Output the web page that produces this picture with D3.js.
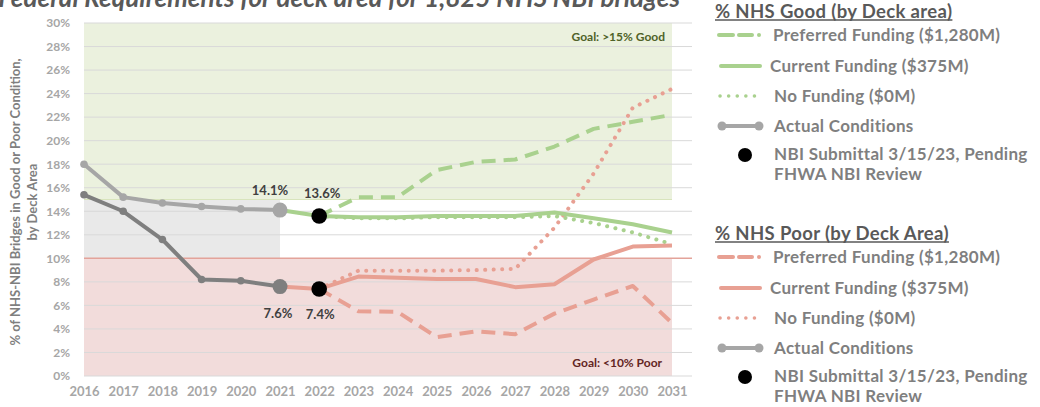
<!DOCTYPE html>
<html><head><meta charset="utf-8">
<script src="https://cdn.jsdelivr.net/npm/d3@7/dist/d3.min.js"></script>
<style>
html,body{margin:0;padding:0;background:#fff;}
svg{display:block;font-family:Lato,"Open Sans",sans-serif;}
</style></head>
<body><svg id="c" width="1040" height="407"></svg>
<script>
const years = [2016,2017,2018,2019,2020,2021,2022,2023,2024,2025,2026,2027,2028,2029,2030,2031];
const yTicks = [0,2,4,6,8,10,12,14,16,18,20,22,24,26,28,30];
const actualYears = [2016,2017,2018,2019,2020,2021];
const actualGood = [18.0,15.2,14.7,14.4,14.2,14.1];
const actualPoor = [15.4,14.0,11.6,8.2,8.1,7.6];
const nbiYear = 2022;
const nbiGood = 13.6, nbiPoor = 7.4;
const projYears = [2021,2022,2023,2024,2025,2026,2027,2028,2029,2030,2031];
const goodPreferred = [null,13.6,15.2,15.2,17.5,18.2,18.4,19.5,21.0,21.6,22.2];
const goodCurrent   = [14.1,13.6,13.5,13.5,13.6,13.6,13.6,13.9,13.4,12.9,12.2];
const goodNone      = [null,13.6,13.4,13.4,13.5,13.5,13.5,13.6,13.0,12.2,11.2];
const poorPreferred = [null,7.4,5.5,5.45,3.3,3.8,3.55,5.3,6.5,7.65,4.5];
const poorCurrent   = [7.6,7.4,8.45,8.35,8.25,8.25,7.55,7.8,9.9,11.0,11.1];
const poorNone      = [null,7.4,8.95,8.95,8.95,9.0,9.1,12.6,17.2,22.8,24.4];
const title = "Federal Requirements for deck area for 1,825 NHS NBI bridges";
const legendGood = ["% NHS Good (by Deck area)","Preferred Funding ($1,280M)","Current Funding ($375M)","No Funding ($0M)","Actual Conditions","NBI Submittal 3/15/23, Pending","FHWA NBI Review"];
const legendPoor = ["% NHS Poor (by Deck Area)","Preferred Funding ($1,280M)","Current Funding ($375M)","No Funding ($0M)","Actual Conditions","NBI Submittal 3/15/23, Pending","FHWA NBI Review"];

const GREEN="#a9d18e", SALMON="#e8a093", LGRAY="#a6a6a6", DGRAY="#7f7f7f";
const svg = d3.select("#c");
const x = d3.scalePoint().domain(years).range([84,672]);
const y = d3.scaleLinear().domain([0,30]).range([376,23]);
const xR = 692;

// background bands
svg.append("rect").attr("x",x(2016)).attr("width",x(2031)-x(2016)).attr("y",y(30)).attr("height",y(15)-y(30)).attr("fill","#ebf1de");
svg.append("rect").attr("x",x(2016)).attr("width",x(2031)-x(2016)).attr("y",y(10)).attr("height",y(0)-y(10)).attr("fill","#f2dcdb");
svg.append("rect").attr("x",x(2016)).attr("width",x(2021)-x(2016)).attr("y",y(15)).attr("height",y(10)-y(15)).attr("fill","#e9e9e9");

// gridlines
svg.append("g").selectAll("line").data(yTicks).join("line")
  .attr("x1",x(2016)).attr("x2",xR).attr("y1",d=>y(d)).attr("y2",d=>y(d))
  .attr("stroke",d=>d===10?"#e3a39a":"#d9d9d9").attr("stroke-width",d=>d===10?1.5:1);
svg.append("line").attr("x1",x(2016)).attr("x2",x(2031)).attr("y1",y(15)).attr("y2",y(15)).attr("stroke","#d8e4bc").attr("stroke-width",1);

// axes
const yAxis = d3.axisLeft(y).tickValues(yTicks).tickFormat(d=>d+"%").tickSize(0).tickPadding(0);
const ga = svg.append("g").attr("transform","translate(70,0)").call(yAxis);
ga.select(".domain").remove();
ga.selectAll("text").attr("fill","#a6a6a6").attr("font-size",12).attr("font-weight","bold").attr("font-family","Lato");
const xAxis = d3.axisBottom(x).tickSize(0).tickPadding(0).tickFormat(d=>d);
const gx = svg.append("g").attr("transform","translate(0,387)").call(xAxis);
gx.select(".domain").remove();
gx.selectAll("text").attr("fill","#a6a6a6").attr("font-size",13).attr("font-weight","bold").attr("font-family","Lato");

// y title
const yt = svg.append("text").attr("transform","translate(0,202) rotate(-90)")
  .attr("text-anchor","middle").attr("fill","#7f7f7f").attr("font-size",13).attr("font-weight","bold");
yt.append("tspan").attr("x",0).attr("y",20).text("% of NHS-NBI Bridges in Good or Poor Condition,");
yt.append("tspan").attr("x",0).attr("y",37).text("by Deck Area");

// goal labels
svg.append("text").attr("x",665).attr("y",41).attr("text-anchor","end").attr("font-size",12).attr("font-weight","bold").attr("fill","#4f6228").text("Goal: >15% Good");
svg.append("text").attr("x",662).attr("y",367).attr("text-anchor","end").attr("font-size",12).attr("font-weight","bold").attr("fill","#632523").text("Goal: <10% Poor");

// title (clipped at top edge, as in the reference)
svg.append("text").attr("x",680).attr("y",7).attr("text-anchor","end").attr("font-size",26).attr("font-weight","bold").attr("font-style","italic").attr("fill","#595959").text(title);

const line = d3.line().defined(d=>d[1]!==null).x(d=>x(d[0])).y(d=>y(d[1]));
function drawLine(vals, color, style){
  const p = svg.append("path").datum(projYears.map((yr,i)=>[yr,vals[i]]))
    .attr("d",line).attr("fill","none").attr("stroke",color).attr("stroke-width",4)
    .attr("stroke-linejoin","round");
  if(style==="dash") p.attr("stroke-dasharray","14 8");
  if(style==="dot") p.attr("stroke-dasharray","0.1 8.4").attr("stroke-linecap","round");
  return p;
}
drawLine(poorNone, SALMON, "dot");
drawLine(goodNone, GREEN, "dot");
drawLine(poorPreferred, SALMON, "dash");
drawLine(goodPreferred, GREEN, "dash");
drawLine(poorCurrent, SALMON, "solid");
drawLine(goodCurrent, GREEN, "solid");

// actual
function drawActual(vals, color){
  const data = actualYears.map((yr,i)=>[yr,vals[i]]);
  svg.append("path").datum(data).attr("d",line).attr("fill","none").attr("stroke",color).attr("stroke-width",4).attr("stroke-linejoin","round");
  svg.append("g").selectAll("circle").data(data).join("circle")
    .attr("cx",d=>x(d[0])).attr("cy",d=>y(d[1])).attr("r",(d,i)=>i===data.length-1?7.5:3.8).attr("fill",color);
}
drawActual(actualGood, LGRAY);
drawActual(actualPoor, DGRAY);

// NBI points
[nbiGood,nbiPoor].forEach(v=>svg.append("circle").attr("cx",x(nbiYear)).attr("cy",y(v)).attr("r",7.8).attr("fill","#000"));

// data labels
function lbl(xx,yy,t){svg.append("text").attr("x",xx).attr("y",yy).attr("text-anchor","middle").attr("font-size",13).attr("font-weight","bold").attr("fill","#404040").text(t);}
lbl(x(2021)-10, y(actualGood[5])-15, actualGood[5].toFixed(1)+"%");
lbl(x(2022)+3, y(nbiGood)-18, nbiGood.toFixed(1)+"%");
lbl(x(2021)-2, y(actualPoor[5])+31, actualPoor[5].toFixed(1)+"%");
lbl(x(2022)+1, y(nbiPoor)+30, nbiPoor.toFixed(1)+"%");

// legends
function legend(top, labels, color){
  const g = svg.append("g").attr("font-weight","bold");
  const t = g.append("text").attr("x",715).attr("y",top+6.5).attr("font-size",18.5).attr("letter-spacing",0.35).attr("fill","#595959").text(labels[0]);
  const w = t.node().getComputedTextLength();
  g.append("line").attr("x1",715).attr("x2",715+w).attr("y1",top+9).attr("y2",top+9).attr("stroke","#595959").attr("stroke-width",1.5);
  const rows = [top+24, top+55, top+85, top+115];
  const tx = [773,770,774,774];
  // preferred: dash dash dot
  g.append("line").attr("x1",719).attr("x2",733).attr("y1",rows[0]).attr("y2",rows[0]).attr("stroke",color).attr("stroke-width",4).attr("stroke-linecap","round");
  g.append("line").attr("x1",739).attr("x2",752).attr("y1",rows[0]).attr("y2",rows[0]).attr("stroke",color).attr("stroke-width",4).attr("stroke-linecap","round");
  g.append("circle").attr("cx",759).attr("cy",rows[0]).attr("r",2).attr("fill",color);
  g.append("line").attr("x1",721).attr("x2",760).attr("y1",rows[1]).attr("y2",rows[1]).attr("stroke",color).attr("stroke-width",4).attr("stroke-linecap","round");
  g.append("line").attr("x1",720).attr("x2",762).attr("y1",rows[2]).attr("y2",rows[2]).attr("stroke",color).attr("stroke-width",3.5).attr("stroke-dasharray","0.1 8.5").attr("stroke-linecap","round");
  g.append("line").attr("x1",722).attr("x2",759).attr("y1",rows[3]).attr("y2",rows[3]).attr("stroke",LGRAY).attr("stroke-width",4);
  g.append("circle").attr("cx",722).attr("cy",rows[3]).attr("r",4.5).attr("fill",LGRAY);
  g.append("circle").attr("cx",759).attr("cy",rows[3]).attr("r",4.5).attr("fill",LGRAY);
  g.append("circle").attr("cx",745).attr("cy",top+144).attr("r",7).attr("fill","#000");
  const fs = 17, ls = 0.3;
  for(let i=0;i<4;i++) g.append("text").attr("x",tx[i]).attr("y",rows[i]+6).attr("font-size",fs).attr("letter-spacing",ls).attr("fill","#7f7f7f").text(labels[i+1]);
  g.append("text").attr("x",774).attr("y",top+149).attr("font-size",fs).attr("letter-spacing",ls).attr("fill","#7f7f7f").text(labels[5]);
  g.append("text").attr("x",774).attr("y",top+169).attr("font-size",fs).attr("letter-spacing",ls).attr("fill","#7f7f7f").text(labels[6]);
}
legend(11, legendGood, GREEN);
legend(233, legendPoor, SALMON);
</script></body></html>
